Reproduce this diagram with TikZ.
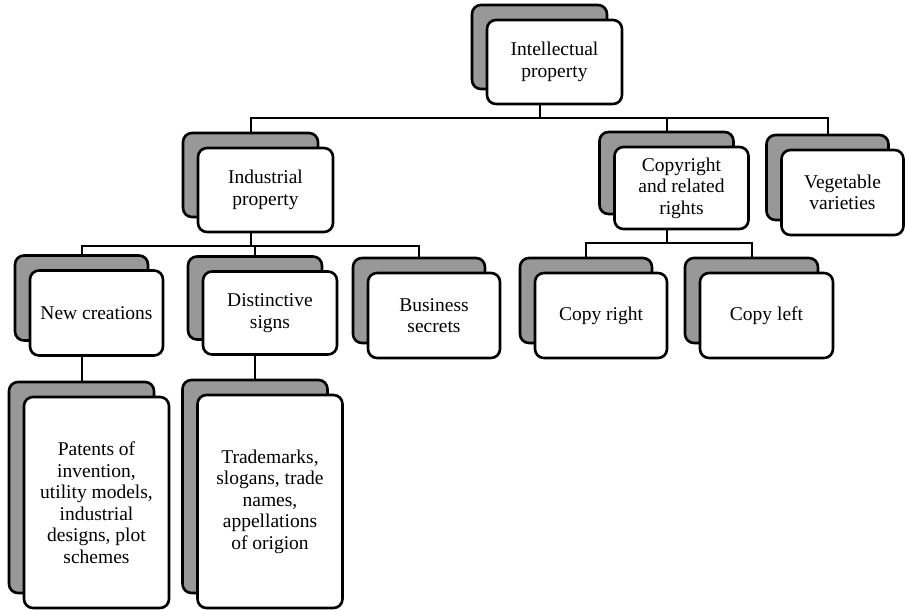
\documentclass[tikz,border=0pt]{standalone}
\usepackage{fontspec}
\setmainfont{Liberation Serif}
\usetikzlibrary{backgrounds,calc}
\definecolor{shade}{RGB}{152,152,152}

\begin{document}
\begin{tikzpicture}[x=1pt, y=-1pt, every node/.style={draw=black, line width=2.6pt, rounded corners=9pt, inner sep=0pt, align=center, font=\fontsize{19.5}{21.5}\selectfont}]
	\tikzset{back/.style={fill=shade}, front/.style={fill=white}}
	\useasboundingbox (0,0) rectangle (906,610);
	% top level
	\node[back,  minimum width=135pt, minimum height=84pt] (ips) at (539.5,47) {};
	\node[front, minimum width=135pt, minimum height=84pt] (ip)  at (554.5,62) {Intellectual\\property};
	% second level
	\node[back,  minimum width=135pt, minimum height=84pt] (inds) at (250.5,175) {};
	\node[front, minimum width=135pt, minimum height=84pt] (ind)  at (265.5,190) {Industrial\\property};
	\node[back,  minimum width=134pt, minimum height=82pt] (cops) at (666.5,173) {};
	\node[front, minimum width=134pt, minimum height=82pt] (cop)  at (681.5,188) {Copyright\\and related\\rights};
	\node[back,  minimum width=122pt, minimum height=85pt] (vegs) at (827.5,177.5) {};
	\node[front, minimum width=122pt, minimum height=85pt] (veg)  at (842.5,192.5) {Vegetable\\varieties};
	% third level
	\node[back,  minimum width=133pt, minimum height=85pt] (ncs) at (81.5,298) {};
	\node[front, minimum width=133pt, minimum height=85pt] (nc)  at (96.5,313) {New creations};
	\node[back,  minimum width=134pt, minimum height=83pt] (dss) at (255,298) {};
	\node[front, minimum width=134pt, minimum height=83pt] (ds)  at (270,313) {Distinctive\\signs};
	\node[back,  minimum width=132pt, minimum height=85pt] (bss) at (419,300.5) {};
	\node[front, minimum width=132pt, minimum height=85pt] (bs)  at (434,315.5) {Business\\secrets};
	\node[back,  minimum width=132pt, minimum height=85pt] (crs) at (586,300.5) {};
	\node[front, minimum width=132pt, minimum height=85pt] (cr)  at (601,315.5) {Copy right};
	\node[back,  minimum width=133pt, minimum height=85pt] (cls) at (751.5,300.5) {};
	\node[front, minimum width=133pt, minimum height=85pt] (cl)  at (766.5,315.5) {Copy left};
	% bottom level
	\node[back,  minimum width=145pt, minimum height=211pt] (pts) at (81.5,487.5) {};
	\node[front, minimum width=145pt, minimum height=211pt] (pt)  at (96.5,502.5) {Patents of\\invention,\\utility models,\\industrial\\designs, plot\\schemes};
	\node[back,  minimum width=145pt, minimum height=213pt] (tms) at (255,486.5) {};
	\node[front, minimum width=145pt, minimum height=213pt] (tm)  at (270,501.5) {Trademarks,\\slogans, trade\\names,\\appellations\\of origion};
	% connectors
	\begin{pgfonlayer}{background}
	\foreach \from/\to in {ip/ind, ip/cop, ip/veg, ind/nc, ind/ds, ind/bs, cop/cr, cop/cl, nc/pt, ds/tm}
	\draw[line width=2pt] (\from s.south) -- ($(\from s.south |- \from.south)+(0,13)$) -| (\to s.north);
	\end{pgfonlayer}
\end{tikzpicture}
\end{document}
